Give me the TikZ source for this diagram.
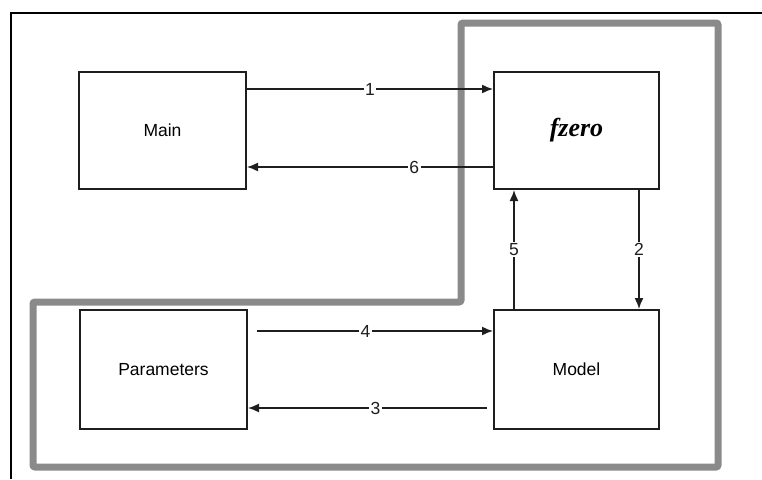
\documentclass[tikz,border=0pt]{standalone}
\usepackage{fontspec}
\setmainfont{Liberation Sans}
\newfontfamily\fzfont{Liberation Serif}
\usetikzlibrary{arrows.meta}
\definecolor{frame}{RGB}{138,138,138}
\definecolor{ink}{RGB}{30,30,30}
\tikzset{
  blk/.style={draw=ink, line width=2pt, inner sep=0pt, font=\fontsize{17.5}{20}\selectfont},
  conn/.style={draw=ink, line width=1.5pt, -{Latex[length=11pt,width=9pt]}},
  lbl/.style={fill=white, inner sep=1.5pt, text=ink, font=\fontsize{17.5}{20}\selectfont},
}
\begin{document}
\begin{tikzpicture}[x=1pt, y=-1pt]
\useasboundingbox (0,0) rectangle (762,479);
% outer page frame
\draw[black, line width=2.5pt] (11,479) -- (11,13) -- (762,13);
% grey region boundary
\draw[frame, line width=7pt, rounded corners=2pt]
  (461,23) -- (718,23) -- (718,467) -- (33,467) -- (33,302) -- (461,302) -- cycle;
% boxes
\node[blk, minimum width=167pt, minimum height=117pt] (main) at (162.5,130.5) {Main};
\node[blk, minimum width=165pt, minimum height=117pt] (fzero) at (576.5,130.5)
  {\fzfont\bfseries\itshape\fontsize{26}{28}\selectfont fzero};
\node[blk, minimum width=167pt, minimum height=119pt] (params) at (163.5,369.5) {Parameters};
\node[blk, minimum width=165pt, minimum height=119pt] (model) at (576.5,369.5) {Model};
% helper levels
\coordinate (r1) at (0,89);
\coordinate (r6) at (0,167);
\coordinate (r4) at (0,331);
\coordinate (r3) at (0,408);
\coordinate (c5) at (514,0);
\coordinate (c2) at (639,0);
% connectors
\draw[conn] (main.east |- r1) -- node[lbl, pos=0.5] {1} (fzero.west |- r1);
\draw[conn] (fzero.west |- r6) -- node[lbl, pos=0.32] {6} (main.east |- r6);
\draw[conn] (fzero.south -| c2) -- node[lbl, pos=0.5] {2} (model.north -| c2);
\draw[conn] (model.north -| c5) -- node[lbl, pos=0.5] {5} (fzero.south -| c5);
\draw[conn, shorten <=9pt] (params.east |- r4) -- node[lbl, pos=0.48] {4} (model.west |- r4);
\draw[conn, shorten <=6pt] (model.west |- r3) -- node[lbl, pos=0.48] {3} (params.east |- r3);
\end{tikzpicture}
\end{document}
